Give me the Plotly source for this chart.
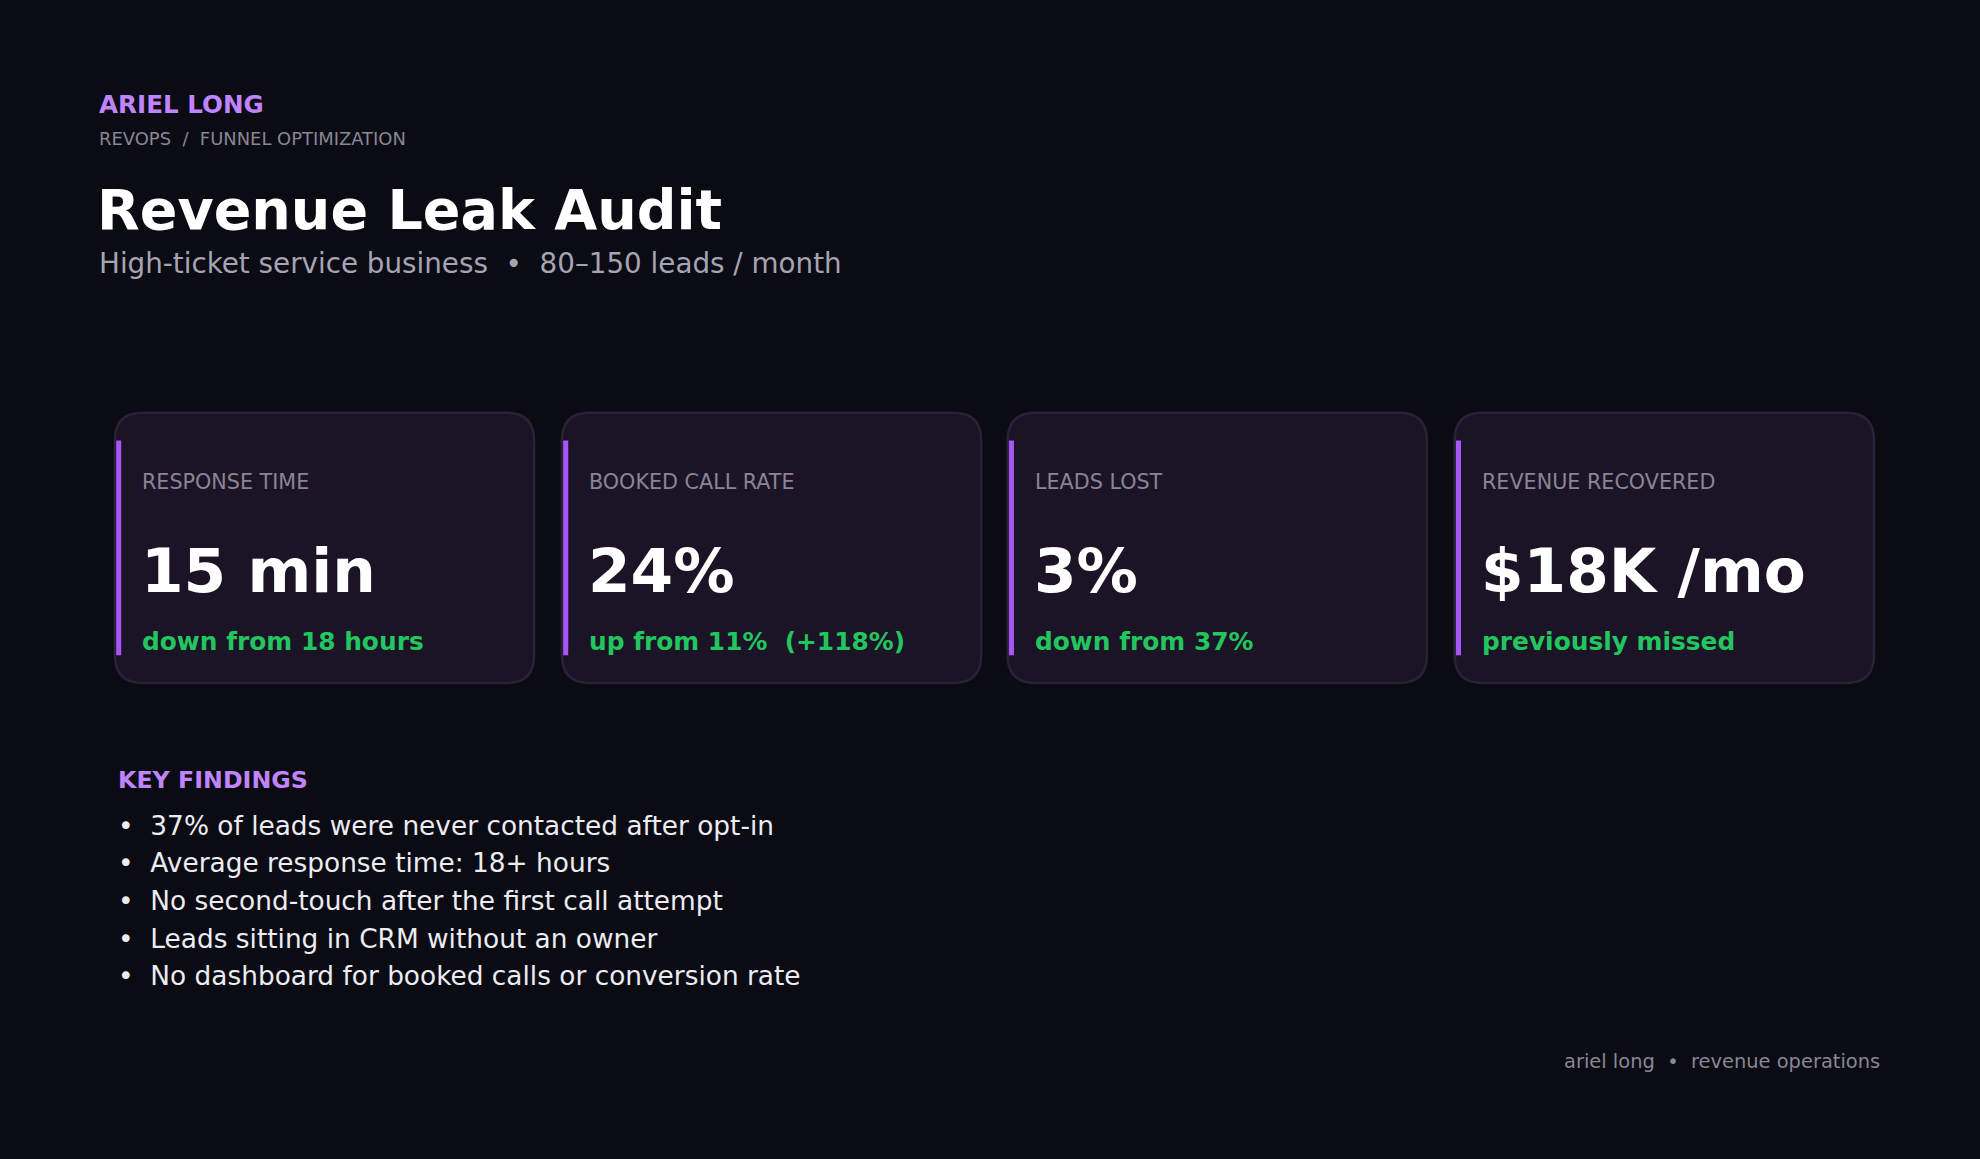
import plotly.graph_objects as go

# card content
labels = ["RESPONSE TIME", "BOOKED CALL RATE", "LEADS LOST", "REVENUE RECOVERED"]
values = ["15 min", "24%", "3%", "$18K /mo"]
changes = ["down from 18 hours", "up from 11%  (+118%)", "down from 37%", "previously missed"]

findings = [
    "37% of leads were never contacted after opt-in",
    "Average response time: 18+ hours",
    "No second-touch after the first call attempt",
    "Leads sitting in CRM without an owner",
    "No dashboard for booked calls or conversion rate",
]

W, H = 1568, 918
S = 1980 / W
FONT = "DejaVu Sans"
BG = "#0b0b13"
PURPLE = "#c084fc"
ACCENT = "#a855f7"
GREEN = "#22c55e"


def rounded(x0, y0, x1, y1, r):
    return (f"M{x0+r},{y0} L{x1-r},{y0} Q{x1},{y0} {x1},{y0+r} L{x1},{y1-r} "
            f"Q{x1},{y1} {x1-r},{y1} L{x0+r},{y1} Q{x0},{y1} {x0},{y1-r} "
            f"L{x0},{y0+r} Q{x0},{y0} {x0+r},{y0} Z")


fig = go.Figure()
shapes, ann = [], []


def txt(x, y, s, size, color, bold=False, anchor="left"):
    ann.append(dict(x=x, y=y, text=f"<b>{s}</b>" if bold else s, showarrow=False,
                    xanchor=anchor, yanchor="middle", xref="x", yref="y",
                    font=dict(family=FONT, size=size * S, color=color)))


txt(77, 83, "ARIEL LONG", 19.5, PURPLE, True)
txt(77, 110, "REVOPS  /  FUNNEL OPTIMIZATION", 14.2, "#8a8696")
txt(75, 166, "Revenue Leak Audit", 44, "#ffffff", True)
txt(77, 209, "High-ticket service business  •  80–150 leads / month", 22, "#a6a4b4")

card_x = [91, 445, 798, 1152]
for i, cx in enumerate(card_x):
    shapes.append(dict(type="path", path=rounded(cx, 327, cx + 332, 541, 22), xref="x", yref="y",
                       fillcolor="#1b1426", line=dict(color="#2a2138", width=2.5), layer="below"))
    shapes.append(dict(type="rect", x0=cx + 1, x1=cx + 5, y0=349, y1=519, xref="x", yref="y",
                       fillcolor=ACCENT, line=dict(width=0)))
    txt(cx + 20, 382, labels[i], 16.4, "#8a8494")
    txt(cx + 19, 452, values[i], 48.5, "#ffffff", True)
    txt(cx + 20, 508, changes[i], 19.7, GREEN, True)

txt(92, 618, "KEY FINDINGS", 18.8, PURPLE, True)
for j, f in enumerate(findings):
    txt(92, 654 + j * 29.8, "•  " + f, 20.9, "#ececf2")

txt(1490, 841, "ariel long  •  revenue operations", 15.4, "#8a8696", anchor="right")

fig.add_trace(go.Scatter(x=[0, W], y=[0, H], mode="markers", marker=dict(opacity=0),
                         hoverinfo="skip", showlegend=False))
fig.update_layout(
    width=1980, height=1159, paper_bgcolor=BG, plot_bgcolor=BG,
    margin=dict(l=0, r=0, t=0, b=0), shapes=shapes, annotations=ann,
    xaxis=dict(range=[0, W], visible=False, fixedrange=True),
    yaxis=dict(range=[H, 0], visible=False, fixedrange=True),
)
fig.write_html("out.html", config={"displayModeBar": False},
               post_script="document.body.style.margin='0';document.body.style.background='%s';" % BG)
